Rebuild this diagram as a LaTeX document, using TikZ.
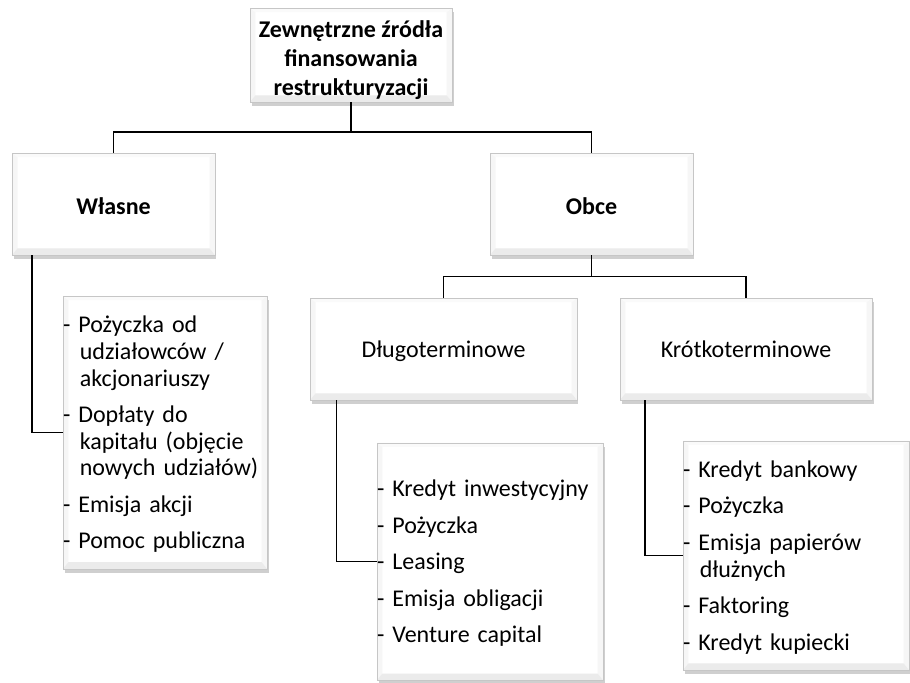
\documentclass[tikz,border=0pt]{standalone}
\usepackage{fontspec}
\setmainfont{Carlito}
\usetikzlibrary{positioning, shadows}

% one list entry with a hanging indent
\newcommand{\pozycja}[1]{\par\vspace{7.4pt}\noindent\rightskip=0pt plus 1fil
  \parfillskip=0pt plus 1fil\hangindent=0.7em\hangafter=1 -\ #1}

\begin{document}
\begin{tikzpicture}[
  x=0.75pt, y=-0.75pt,
  bevel/.style={path picture={
    \coordinate (sw) at (path picture bounding box.south west);
    \coordinate (se) at (path picture bounding box.south east);
    \coordinate (nw) at (path picture bounding box.north west);
    \coordinate (ne) at (path picture bounding box.north east);
    \fill[gray!7] (sw) -- (nw) -- ([shift={(4pt,-3pt)}]nw) -- ([shift={(4pt,5pt)}]sw) -- cycle;
    \fill[gray!7] (se) -- (ne) -- ([shift={(-4pt,-3pt)}]ne) -- ([shift={(-4pt,5pt)}]se) -- cycle;
    \fill[gray!4] (nw) -- (ne) -- ([shift={(-4pt,-3pt)}]ne) -- ([shift={(4pt,-3pt)}]nw) -- cycle;
    \fill[gray!16] (sw) -- (se) -- ([shift={(-4pt,5pt)}]se) -- ([shift={(4pt,5pt)}]sw) -- cycle;
  }},
  box/.style={draw=gray!45, line width=0.4pt, fill=white, bevel,
    drop shadow={shadow xshift=1.2pt, shadow yshift=-3pt, opacity=0.5, fill=gray!75},
    align=center, inner sep=2pt, font=\fontsize{18}{21}\selectfont},
  oneline/.style={text height=14pt, text depth=1pt},
  head/.style={box, font=\fontsize{18}{21.5}\selectfont\bfseries},
  listbox/.style={box, align=left, inner xsep=0pt, inner ysep=0pt,
    font=\fontsize{18}{20}\selectfont},
  conn/.style={draw, line width=1.1pt},
]
\useasboundingbox (0,0) rectangle (910,682);

% levels 1 and 2
\node[head, minimum width=151.5pt, minimum height=70.5pt] (top) at (351,55) {};
\node[font=\fontsize{18}{21.5}\selectfont\bfseries, align=center] (toptxt) at (351,60)
  {Zewnętrzne źródła\\finansowania\\restrukturyzacji};
\node[head, text height=16pt, text depth=0pt, minimum width=152pt, minimum height=76.5pt] (wl) at (113.5,204) {Własne};
\node[head, text height=16pt, text depth=0pt, minimum width=152pt, minimum height=76.5pt] (ob) at (591.5,204) {Obce};

% level 3
\node[box, oneline, minimum width=200pt, minimum height=76.5pt] (dl) at (443.5,349) {Długoterminowe};
\node[box, oneline, minimum width=189pt, minimum height=76.5pt] (kr) at (746,349) {Krótkoterminowe};

% lists
\node[listbox, text width=153pt, minimum height=202pt] (wlist) at (165,432.5) {%
  \pozycja{Pożyczka od\newline udziałowców /\newline akcjonariuszy}
  \pozycja{Dopłaty do\newline kapitału (objęcie\newline nowych udziałów)}
  \pozycja{Emisja akcji}
  \pozycja{Pomoc publiczna}\vspace{12pt}};
\node[listbox, text width=169.5pt, minimum height=178pt] (dlist) at (490,561.5) {%
  \pozycja{Kredyt inwestycyjny}
  \pozycja{Pożyczka}
  \pozycja{Leasing}
  \pozycja{Emisja obligacji}
  \pozycja{Venture capital}\vspace{12pt}};
\node[listbox, text width=169.5pt, minimum height=169pt] (klist) at (796,555.5) {%
  \pozycja{Kredyt bankowy}
  \pozycja{Pożyczka}
  \pozycja{Emisja papierów\newline dłużnych}
  \pozycja{Faktoring}
  \pozycja{Kredyt kupiecki}\vspace{12pt}};

% connectors
\coordinate (j1) at (351,132);
\coordinate (j2) at (591.5,276.5);
\draw[conn] (top.south) -- (j1);
\draw[conn] (wl.north) |- (j1) -| (ob.north);
\draw[conn] (ob.south) -- (j2);
\draw[conn] (dl.north) |- (j2) -| (kr.north);
\draw[conn] ([xshift=15pt]wl.south west) |- (wlist.west);
\draw[conn] ([xshift=20pt]dl.south west) |- (dlist.west);
\draw[conn] ([xshift=19pt]kr.south west) |- (klist.west);
\end{tikzpicture}
\end{document}
